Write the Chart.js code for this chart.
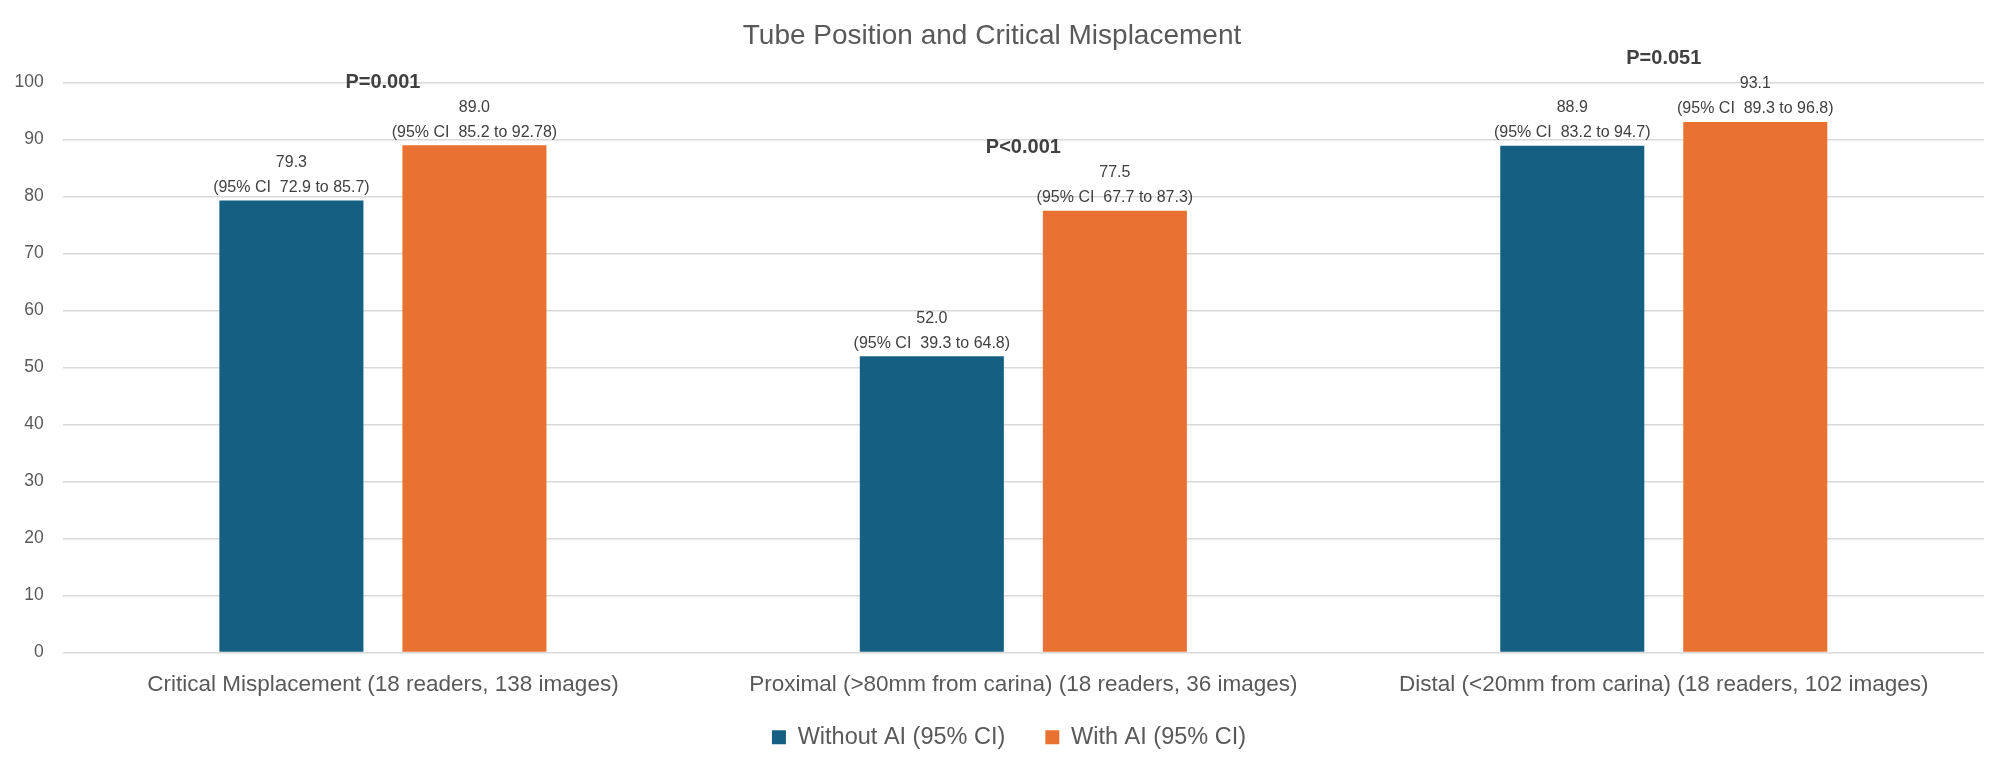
<!DOCTYPE html>
<html>
<head>
<meta charset="utf-8">
<script src="https://cdn.jsdelivr.net/npm/chart.js@4.4.1/dist/chart.umd.min.js"></script>
<style>
  html, body { margin: 0; padding: 0; background: #fff; }
  #wrap { width: 2008px; height: 773px; position: relative; }
</style>
</head>
<body>
<div id="wrap"><canvas id="chart"></canvas></div>
<script>
// datos
const categories = [
  'Critical Misplacement (18 readers, 138 images)',
  'Proximal (>80mm from carina) (18 readers, 36 images)',
  'Distal (<20mm from carina) (18 readers, 102 images)'
];
const seriesNames = ['Without AI (95% CI)', 'With AI (95% CI)'];
const withoutAI = [79.3, 52.0, 88.9];
const withoutLo = [72.9, 39.3, 83.2];
const withoutHi = [85.7, 64.8, 94.7];
const withAI = [89.0, 77.5, 93.1];
const withLo = [85.2, 67.7, 89.3];
const withHi = [92.78, 87.3, 96.8];
const pValues = ['P=0.001', 'P<0.001', 'P=0.051'];
const yTicks = [0, 10, 20, 30, 40, 50, 60, 70, 80, 90, 100];

const FONT = "'Liberation Sans', Arial, sans-serif";
const TXT = '#595959';
const GRID = '#d9d9d9';

// etiquetas encima de las barras + valor p
const labelsPlugin = {
  id: 'barLabels',
  afterDatasetsDraw(chart) {
    const ctx = chart.ctx;
    const los = [withoutLo, withLo];
    const his = [withoutHi, withHi];
    ctx.save();
    ctx.fillStyle = '#404040';
    ctx.textAlign = 'center';
    ctx.textBaseline = 'middle';
    chart.data.datasets.forEach((ds, di) => {
      const meta = chart.getDatasetMeta(di);
      meta.data.forEach((bar, i) => {
        ctx.font = '16px ' + FONT;
        ctx.fillText(ds.data[i].toFixed(1), bar.x, bar.y - 38);
        ctx.fillText('(95% CI  ' + los[di][i] + ' to ' + his[di][i] + ')', bar.x, bar.y - 13);
      });
    });
    const orange = chart.getDatasetMeta(1).data;
    const xs = chart.scales.x;
    ctx.font = 'bold 20px ' + FONT;
    pValues.forEach((p, i) => {
      ctx.fillText(p, xs.getPixelForValue(i), orange[i].y - 63);
    });
    ctx.restore();
  }
};

// la leyenda queda un poco más arriba y a la derecha que el centrado por defecto
const nudgeLegend = {
  id: 'nudgeLegend',
  afterLayout(chart) {
    const lg = chart.legend;
    lg.left += 17; lg.right += 17;
    lg.top -= 13; lg.bottom -= 13;
  }
};

new Chart(document.getElementById('chart'), {
  type: 'bar',
  data: {
    labels: categories,
    datasets: [
      { label: seriesNames[0], data: withoutAI, backgroundColor: '#156082' },
      { label: seriesNames[1], data: withAI, backgroundColor: '#e97132' }
    ]
  },
  options: {
    responsive: true,
    maintainAspectRatio: false,
    animation: false,
    categoryPercentage: 0.5716,
    barPercentage: 0.787,
    layout: { padding: { top: 0, right: 24, bottom: 1, left: 0 } },
    plugins: {
      title: {
        display: true,
        text: 'Tube Position and Critical Misplacement',
        color: TXT,
        font: { family: FONT, size: 28, weight: 'normal' },
        padding: { top: 19, bottom: 30 }
      },
      legend: {
        position: 'bottom',
        labels: {
          color: TXT,
          font: { family: FONT, size: 23.5 },
          boxWidth: 14,
          boxHeight: 14,
          padding: 40
        }
      },
      tooltip: { enabled: false }
    },
    scales: {
      x: {
        grid: { display: false },
        border: { display: false },
        ticks: {
          color: TXT,
          font: { family: FONT, size: 22.5 },
          padding: 11,
          maxRotation: 0
        },
        afterFit(scale) { scale.height = 46; }
      },
      y: {
        min: 0,
        max: 100,
        afterBuildTicks(scale) { scale.ticks = yTicks.map(v => ({ value: v })); },
        grid: { color: GRID, lineWidth: 1.5, drawTicks: false },
        border: { display: false },
        ticks: {
          color: TXT,
          font: { family: FONT, size: 17.5 },
          padding: 19
        },
        afterFit(scale) { scale.width = 62.7; }
      }
    }
  },
  plugins: [labelsPlugin, nudgeLegend]
});
</script>
</body>
</html>
